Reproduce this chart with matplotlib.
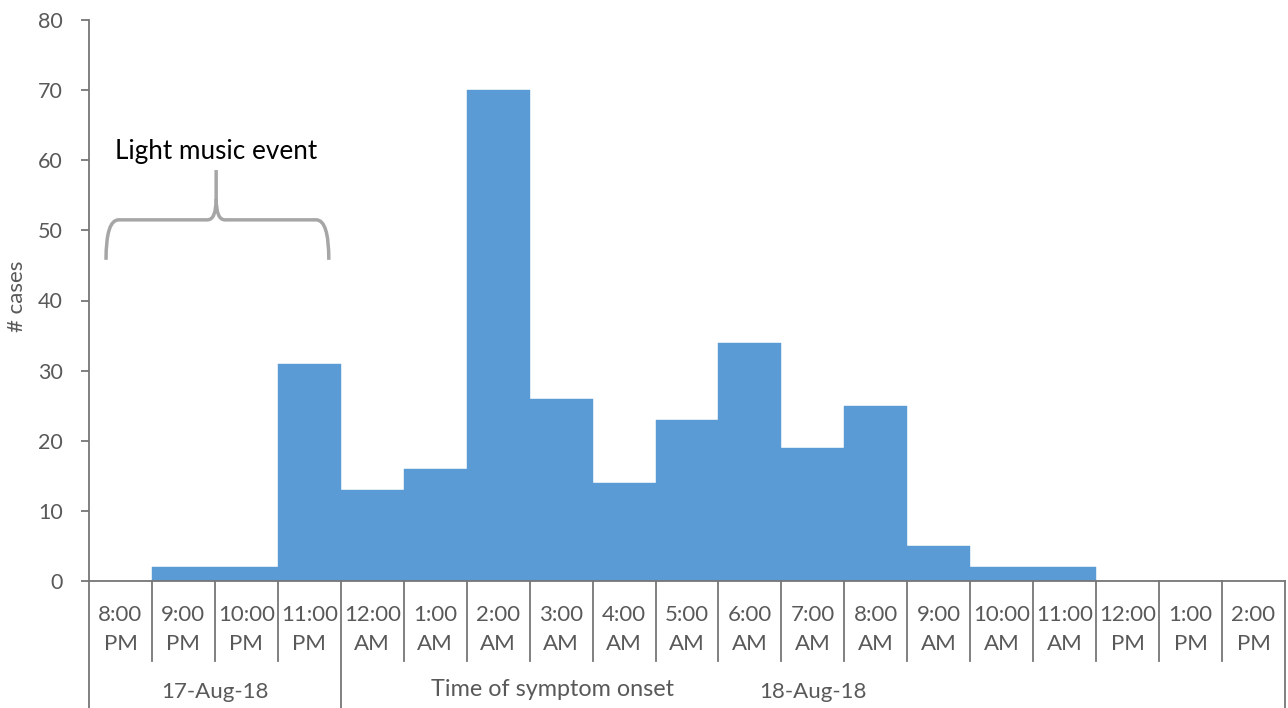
import matplotlib
matplotlib.use("Agg")
import matplotlib.pyplot as plt
from matplotlib.path import Path
from matplotlib.patches import PathPatch
import matplotlib.transforms as mtransforms

hours = ["8:00\nPM", "9:00\nPM", "10:00\nPM", "11:00\nPM", "12:00\nAM", "1:00\nAM",
         "2:00\nAM", "3:00\nAM", "4:00\nAM", "5:00\nAM", "6:00\nAM", "7:00\nAM",
         "8:00\nAM", "9:00\nAM", "10:00\nAM", "11:00\nAM", "12:00\nPM", "1:00\nPM", "2:00\nPM"]
cases = [0, 2, 2, 31, 13, 16, 70, 26, 14, 23, 34, 19, 25, 5, 2, 2, 0, 0, 0]
dates = ["17-Aug-18", "18-Aug-18"]
date_counts = [4, 15]
yticks = [0, 10, 20, 30, 40, 50, 60, 70, 80]

FONT = ["Lato", "DejaVu Sans"]
plt.rcParams['font.family'] = FONT
GRAY_T = "#595959"
AXC = "#767676"

fig = plt.figure(figsize=(12.88, 7.08), dpi=100)
ax = fig.add_axes([89/1288, (708-581)/708, (1285-89)/1288, (581-20)/708])

x = list(range(len(cases)))
ax.bar(x, cases, width=1.0, color="#5B9BD5", edgecolor="#5B9BD5", linewidth=0.3, zorder=2)

ax.set_xlim(-0.5, len(cases) - 0.5)
ax.set_ylim(0, 80)
ax.set_yticks(yticks)
ax.tick_params(axis='y', direction='out', length=6, width=1.3, color=AXC,
               labelsize=15.5, labelcolor=GRAY_T, pad=13)
ax.set_xticks(x)
ax.set_xticklabels(hours, fontsize=16, color=GRAY_T, linespacing=1.6)
ax.tick_params(axis='x', length=0, pad=17)

for s in ["top", "right"]:
    ax.spines[s].set_visible(False)
ax.spines["left"].set_color(AXC)
ax.spines["left"].set_linewidth(1.3)
ax.spines["bottom"].set_color(AXC)
ax.spines["bottom"].set_linewidth(1.3)

ax.set_ylabel("# cases", fontsize=16, color=GRAY_T)
ax.yaxis.set_label_coords(-0.052, 0.508)

# multi-level category axis
trans = mtransforms.blended_transform_factory(ax.transData, ax.transAxes)
ax_h = 561.0
inner_bottom = -(661 - 581) / ax_h
outer_bottom = -(708 - 581) / ax_h - 0.01
bounds = [-0.5]
for c in date_counts:
    bounds.append(bounds[-1] + c)
for k in range(len(cases) + 1):
    xb = k - 0.5
    if xb in bounds:
        ax.plot([xb, xb], [0, outer_bottom], transform=trans, color=AXC, lw=1.3, clip_on=False)
    else:
        ax.plot([xb, xb], [0, inner_bottom], transform=trans, color=AXC, lw=1.3, clip_on=False)
for i, d in enumerate(dates):
    xc = (bounds[i] + bounds[i + 1]) / 2
    ax.text(xc, -(692 - 581) / ax_h, d, transform=trans, ha='center', va='center',
            fontsize=16, color=GRAY_T)
ax.text(6.86, -(690 - 581) / ax_h, "Time of symptom onset", transform=trans,
        ha='center', va='center', fontsize=16.8, color=GRAY_T)

# brace annotation
xl, xr, xm = -0.23, 3.31, 1.52
yh, ye, yt = 51.5, 45.8, 58.6
yc = 54.5
verts = [(xl, ye), (xl, yh), (xl + 0.2, yh),
         (xm - 0.14, yh),
         (xm, yh), (xm, yc),
         (xm, yt)]
codes = [Path.MOVETO, Path.CURVE3, Path.CURVE3, Path.LINETO, Path.CURVE3, Path.CURVE3, Path.LINETO]
verts2 = [(xm, yc), (xm, yh), (xm + 0.14, yh),
          (xr - 0.2, yh),
          (xr, yh), (xr, ye)]
codes2 = [Path.MOVETO, Path.CURVE3, Path.CURVE3, Path.LINETO, Path.CURVE3, Path.CURVE3]
for v, c in [(verts, codes), (verts2, codes2)]:
    ax.add_patch(PathPatch(Path(v, c), facecolor='none', edgecolor="#A6A6A6", lw=2.5,
                           clip_on=False, zorder=3))
ax.text(xm, 61.2, "Light music event", ha='center', va='center', fontsize=18.8, color="black")

fig.savefig("out.png", dpi=100)
